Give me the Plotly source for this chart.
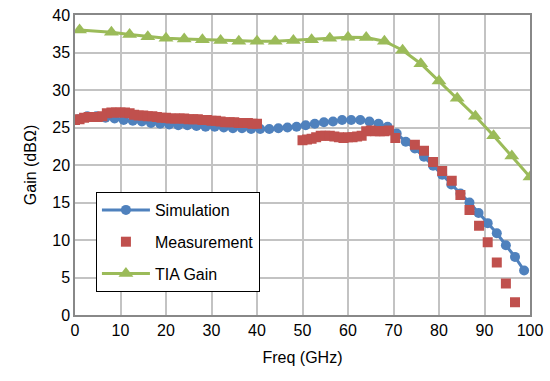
import plotly.graph_objects as go

# Simulation
sim_x = [0.7 + 2 * k for k in range(50)]
sim_y = [26.1, 26.5, 26.5, 26.3, 26.2, 26.0, 25.9, 25.8, 25.6, 25.5,
         25.4, 25.3, 25.3, 25.2, 25.1, 25.1, 25.0, 24.9, 24.9, 24.8,
         24.8, 24.8, 24.9, 25.0, 25.1, 25.3, 25.5, 25.7, 25.8, 26.0,
         26.0, 26.0, 25.8, 25.5, 25.1, 24.2, 23.1, 22.2, 21.1, 19.9,
         18.7, 17.4, 16.2, 15.0, 13.6, 12.25, 10.9, 9.3, 7.75, 5.93]

# Measurement
meas_x = list(range(0, 41)) + list(range(50, 70)) + [70.4, 74.7, 76.7, 78.7, 80.7, 82.8, 84.7,
                                                     86.7, 88.8, 90.7, 92.7, 94.7, 96.7]
meas_y = [26.0, 26.1, 26.3, 26.4, 26.4, 26.4, 26.5, 26.9, 27.0, 27.0,
          27.0, 27.0, 26.9, 26.7, 26.6, 26.6, 26.5, 26.5, 26.4, 26.3,
          26.3, 26.2, 26.2, 26.2, 26.2, 26.1, 26.1, 26.1, 26.0, 26.0,
          25.9, 25.9, 25.8, 25.7, 25.7, 25.7, 25.6, 25.6, 25.6, 25.5, 25.5,
          23.3, 23.4, 23.5, 23.7, 23.9, 23.9, 23.9, 23.8, 23.7, 23.6,
          23.7, 23.7, 23.8, 23.9, 24.5, 24.6, 24.5, 24.5, 24.5, 24.6,
          23.6, 22.7, 21.9, 20.4, 19.2, 17.9, 16.0, 14.0, 11.9, 9.7, 7.0, 4.2, 1.7]

# TIA Gain
tia_x = [1] + list(range(8, 101, 4))
tia_y = [38.0, 37.7, 37.4, 37.1, 36.9, 36.8, 36.7, 36.6, 36.5, 36.5,
         36.5, 36.6, 36.7, 36.9, 37.05, 37.0, 36.5, 35.3, 33.5, 31.2,
         28.9, 26.5, 23.9, 21.2, 18.4]

x_ticks = list(range(0, 101, 10))
y_ticks = list(range(0, 41, 5))

fig = go.Figure()
fig.add_trace(go.Scatter(x=sim_x, y=sim_y, name="Simulation", mode="lines+markers",
                         legendgroup="a",
                         line=dict(color="#4F81BD", width=3),
                         marker=dict(symbol="circle", size=10, color="#4F81BD")))
fig.add_trace(go.Scatter(x=meas_x, y=meas_y, name="Measurement", mode="markers",
                         legendgroup="b",
                         marker=dict(symbol="square", size=10, color="#C0504D")))
fig.add_trace(go.Scatter(x=tia_x, y=tia_y, name="TIA Gain", mode="lines+markers",
                         legendgroup="c",
                         line=dict(color="#9BBB59", width=3),
                         marker=dict(symbol="triangle-up", size=13, color="#9BBB59")))

font = "Liberation Sans, Arial, sans-serif"
fig.update_layout(
    width=550, height=381,
    margin=dict(l=75, r=15, t=7, b=66),
    paper_bgcolor="white", plot_bgcolor="white",
    font=dict(family=font, size=16, color="#000000"),
    showlegend=True,
    legend=dict(x=0.046, y=0.41, xanchor="left", yanchor="top",
                bordercolor="#000000", borderwidth=1, bgcolor="white",
                font=dict(size=16), itemwidth=48, tracegroupgap=8,
                entrywidth=125),
)
fig.update_xaxes(range=[0, 100], tickvals=x_ticks, showgrid=True, gridcolor="#C3C3C3", gridwidth=1.5,
                 showline=True, linecolor="#888888", linewidth=1.5, mirror=True,
                 ticks="", zeroline=False, tickfont=dict(size=16),
                 title=dict(text="Freq (GHz)", font=dict(size=16), standoff=14))
fig.update_yaxes(range=[0, 40], tickvals=y_ticks, showgrid=True, gridcolor="#C3C3C3", gridwidth=1.5,
                 showline=True, linecolor="#888888", linewidth=1.5, mirror=True,
                 ticks="", zeroline=False, tickfont=dict(size=16),
                 title=dict(text="Gain (dBΩ)", font=dict(size=16), standoff=12))

fig.write_html("out.html")
